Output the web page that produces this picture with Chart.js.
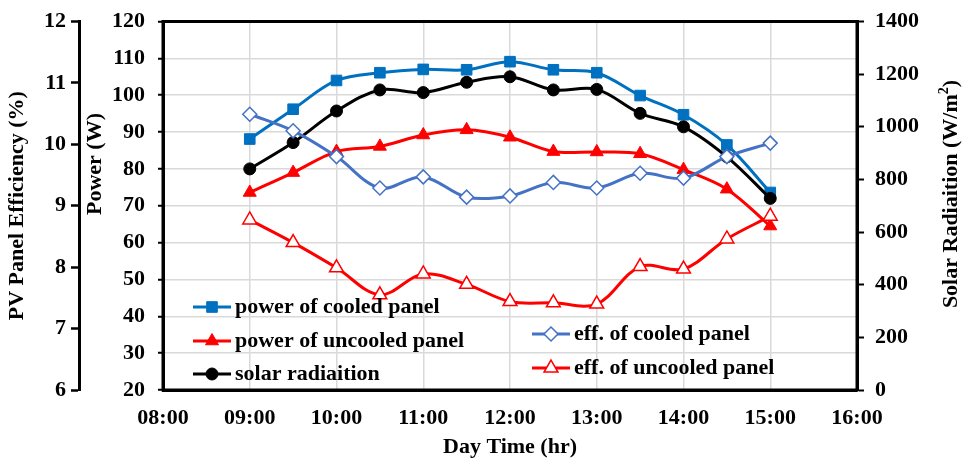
<!DOCTYPE html>
<html><head><meta charset="utf-8">
<script src="https://cdn.jsdelivr.net/npm/chart.js@4.4.1/dist/chart.umd.min.js"></script>
<style>html,body{margin:0;padding:0;background:#fff;}canvas{display:block;}</style>
</head><body>
<canvas id="c" width="965" height="461"></canvas>
<script>
const timeLabels = ['09:00','09:30','10:00','10:30','11:00','11:30','12:00','12:30','13:00','13:30','14:00','14:30','15:00'];
const powerCooled   = [88.1, 96.2, 104.0, 106.1, 107.0, 106.9, 109.1, 106.9, 106.1, 99.9, 94.7, 86.5, 73.6];
const powerUncooled = [73.6, 79.0, 84.7, 86.1, 89.2, 90.6, 88.6, 84.7, 84.6, 84.1, 79.8, 74.5, 64.5];
const solarRadiation = [840, 940, 1060, 1140, 1130, 1169, 1190, 1140, 1142, 1051, 1000, 886, 728];
const effCooled   = [10.49, 10.22, 9.80, 9.29, 9.47, 9.14, 9.16, 9.38, 9.29, 9.53, 9.45, 9.80, 10.02];
const effUncooled = [8.77, 8.40, 7.99, 7.55, 7.89, 7.72, 7.44, 7.42, 7.40, 8.01, 7.97, 8.46, 8.83];
const xTickLabels = ['08:00','09:00','10:00','11:00','12:00','13:00','14:00','15:00','16:00'];
const seriesNames = ['power of cooled panel','power of uncooled panel','solar radiaition','eff. of cooled panel','eff. of uncooled panel'];
const axisTitles = {x:'Day Time (hr)', eff:'PV Panel Efficiency (%)', power:'Power (W)', solar:'Solar Radiaition (W/m', solarSup:'2', solarEnd:')'};

function toHours(t){const p=t.split(':').map(Number);return p[0]+p[1]/60;}
const xs = timeLabels.map(toHours);
const pts = arr => arr.map((v,i)=>({x:xs[i], y:v}));
const FONT = '"Liberation Serif", "Times New Roman", serif';
Chart.defaults.font.family = FONT;
Chart.defaults.font.size = 22;
Chart.defaults.font.weight = 'bold';
Chart.defaults.color = '#000';

const BLUE='#0070C0', RED='#FF0000', BLK='#000000', LBLUE='#4472C4';

const datasets = [
  {label:seriesNames[0], data:pts(powerCooled), yAxisID:'y', borderColor:BLUE, backgroundColor:BLUE,
   pointStyle:'rect', pointRadius:7.5, pointBorderWidth:1, borderWidth:3, order:5},
  {label:seriesNames[1], data:pts(powerUncooled), yAxisID:'y', borderColor:RED, backgroundColor:RED,
   pointStyle:'triangle', pointRadius:7.5, pointBorderWidth:1, borderWidth:3, order:4},
  {label:seriesNames[2], data:pts(solarRadiation), yAxisID:'ySolar', borderColor:BLK, backgroundColor:BLK,
   pointStyle:'circle', pointRadius:6, pointBorderWidth:1, borderWidth:3, order:3},
  {label:seriesNames[3], data:pts(effCooled), yAxisID:'yEff', borderColor:LBLUE, backgroundColor:'#fff',
   pointStyle:'rectRot', pointRadius:7, pointBorderWidth:1.5, borderWidth:3, order:2},
  {label:seriesNames[4], data:pts(effUncooled), yAxisID:'yEff', borderColor:RED, backgroundColor:'#fff',
   pointStyle:'triangle', pointRadius:8, pointBorderWidth:1.5, borderWidth:3, order:1}
];
datasets.forEach(d=>{d.tension=0.35; d.fill=false; d.pointHoverRadius=d.pointRadius;});

function drawMarker(ctx, style, x, y, r, fill, stroke, lw){
  ctx.beginPath();
  if(style==='circle'){ctx.arc(x,y,r,0,Math.PI*2);}
  else if(style==='rect'){const s=r/Math.SQRT2;ctx.rect(x-s,y-s,2*s,2*s);}
  else if(style==='rectRot'){ctx.moveTo(x,y-r);ctx.lineTo(x+r,y);ctx.lineTo(x,y+r);ctx.lineTo(x-r,y);ctx.closePath();}
  else if(style==='triangle'){
    let a=0;ctx.moveTo(x+Math.sin(a)*r,y-Math.cos(a)*r);
    a+=2*Math.PI/3;ctx.lineTo(x+Math.sin(a)*r,y-Math.cos(a)*r);
    a+=2*Math.PI/3;ctx.lineTo(x+Math.sin(a)*r,y-Math.cos(a)*r);ctx.closePath();
  }
  ctx.fillStyle=fill;ctx.fill();ctx.lineWidth=lw;ctx.strokeStyle=stroke;ctx.stroke();
}

const legendSlots = [[193,307],[193,341],[193,374],[532,334],[532,368]];

const overlay = {
  id:'overlay',
  afterDraw(chart){
    const ctx=chart.ctx, a=chart.chartArea;
    ctx.save();
    ctx.strokeStyle='#000';ctx.lineWidth=3;
    ctx.strokeRect(a.left,a.top,a.right-a.left,a.bottom-a.top);
    ctx.fillStyle='#000';
    ctx.font='bold 22px '+FONT;
    ctx.textBaseline='middle';
    ctx.save();ctx.translate(95,164);ctx.rotate(-Math.PI/2);ctx.textAlign='center';
    ctx.fillText(axisTitles.power,0,0);ctx.restore();
    ctx.save();ctx.translate(951,194);ctx.rotate(-Math.PI/2);ctx.textAlign='left';
    const w1=ctx.measureText(axisTitles.solar).width;
    ctx.font='bold 14px '+FONT;const w2=ctx.measureText(axisTitles.solarSup).width;
    ctx.font='bold 22px '+FONT;const w3=ctx.measureText(axisTitles.solarEnd).width;
    let sx=-(w1+w2+w3)/2;
    ctx.fillText(axisTitles.solar,sx,0);sx+=w1;
    ctx.font='bold 14px '+FONT;ctx.fillText(axisTitles.solarSup,sx,-7);sx+=w2;
    ctx.font='bold 22px '+FONT;ctx.fillText(axisTitles.solarEnd,sx,0);
    ctx.restore();
    chart.data.datasets.forEach((d,i)=>{
      const [lx,ly]=legendSlots[i];
      ctx.beginPath();ctx.moveTo(lx,ly);ctx.lineTo(lx+38,ly);
      ctx.strokeStyle=d.borderColor;ctx.lineWidth=3;ctx.stroke();
      drawMarker(ctx,d.pointStyle,lx+19,ly,d.pointRadius,d.backgroundColor,d.borderColor,d.pointBorderWidth);
      ctx.fillStyle='#000';ctx.font='bold 22px '+FONT;ctx.textAlign='left';ctx.textBaseline='middle';
      ctx.fillText(d.label,lx+42,ly);
    });
    ctx.restore();
  }
};

const plain = v => String(v);
function vFit(w){return function(s){s.width=w;s.paddingTop=0;s.paddingBottom=0;};}

new Chart(document.getElementById('c'),{
  type:'line',
  data:{datasets},
  plugins:[overlay],
  options:{
    responsive:false, animation:false,
    layout:{padding:{top:21.5,left:0,right:0,bottom:0}},
    plugins:{legend:{display:false}, tooltip:{enabled:false}},
    scales:{
      x:{type:'linear', position:'bottom', min:8, max:16,
         ticks:{stepSize:1, padding:15, autoSkip:false, maxRotation:0,
                callback:v=>{const l=xTickLabels.find(t=>toHours(t)===v);return l===undefined?'':l;}},
         grid:{color:'#d9d9d9', lineWidth:1.5, drawTicks:false},
         border:{color:'#000', width:3},
         title:{display:true, text:axisTitles.x, padding:{top:0,bottom:0}},
         afterFit(s){s.height=71;s.paddingLeft=0;s.paddingRight=0;}},
      yEff:{position:'left', weight:1, min:6, max:12,
         ticks:{stepSize:1, padding:5, callback:plain},
         grid:{drawOnChartArea:false, tickLength:8, tickColor:'#000', tickWidth:2.5},
         border:{color:'#000', width:3},
         title:{display:true, text:axisTitles.eff, padding:{top:4,bottom:0}},
         afterFit:vFit(79)},
      y:{position:'left', weight:0, min:20, max:120,
         ticks:{stepSize:10, padding:13, callback:plain},
         grid:{color:'#d9d9d9', lineWidth:1.5, tickLength:5, tickColor:'#000', tickWidth:2},
         border:{color:'#000', width:3},
         afterFit:vFit(84)},
      ySolar:{position:'right', min:0, max:1400,
         ticks:{stepSize:200, padding:11, callback:plain},
         grid:{drawOnChartArea:false, tickLength:7, tickColor:'#000', tickWidth:2},
         border:{color:'#000', width:3},
         afterFit:vFit(108)}
    }
  }
});
</script>
</body></html>
